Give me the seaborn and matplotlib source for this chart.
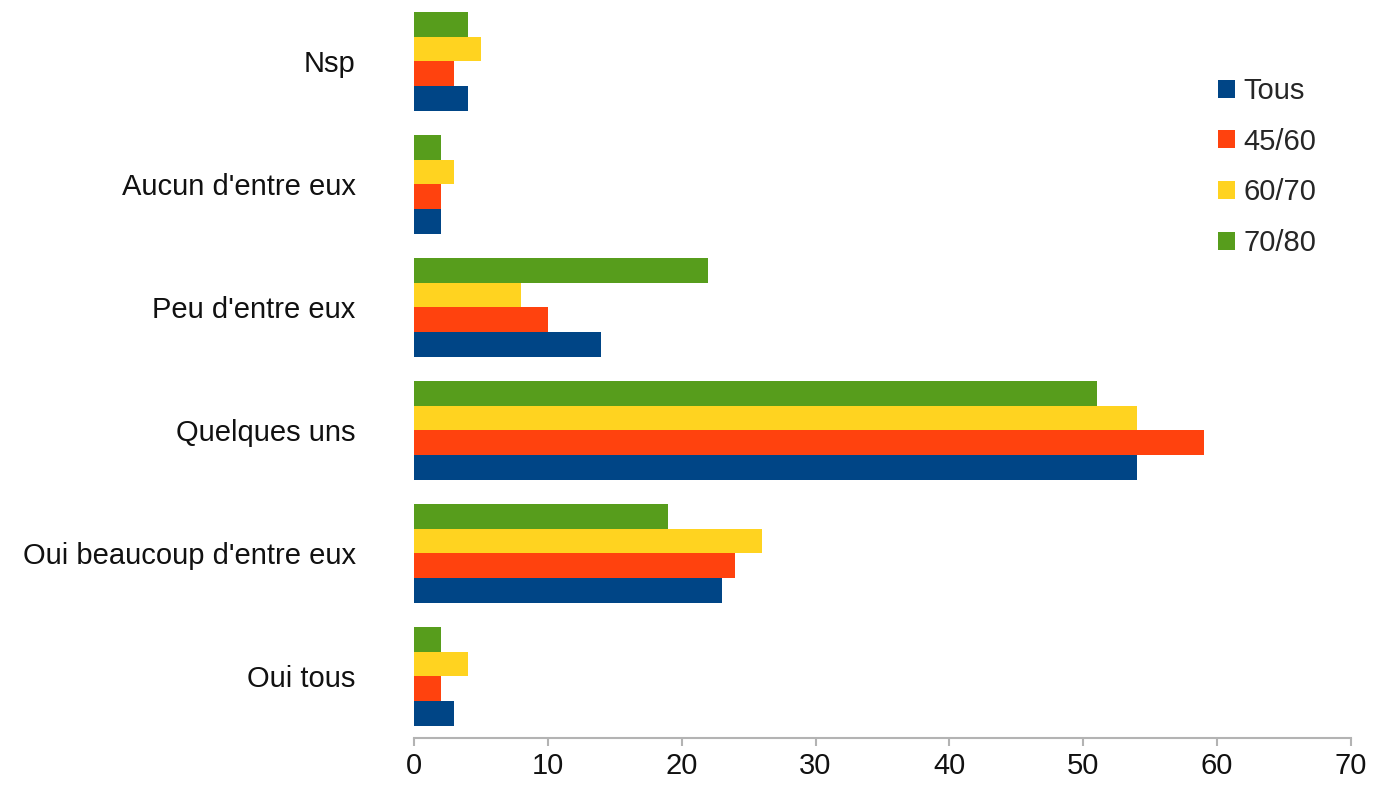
"""Grouped horizontal bar chart: responses by age band."""

import matplotlib.pyplot as plt
import pandas as pd
import seaborn as sns
from matplotlib.patches import Patch

# categories, top to bottom as shown
categories = [
    "Nsp",
    "Aucun d'entre eux",
    "Peu d'entre eux",
    "Quelques uns",
    "Oui beaucoup d'entre eux",
    "Oui tous",
]
series_names = ["Tous", "45/60", "60/70", "70/80"]

tous = [4, 2, 14, 54, 23, 3]
age_45_60 = [3, 2, 10, 59, 24, 2]
age_60_70 = [5, 3, 8, 54, 26, 4]
age_70_80 = [4, 2, 22, 51, 19, 2]

colors = {"Tous": "#004586", "45/60": "#ff420e", "60/70": "#ffd320", "70/80": "#579d1c"}

rows = []
for name, vals in zip(series_names, [tous, age_45_60, age_60_70, age_70_80]):
    for cat, v in zip(categories, vals):
        rows.append({"reponse": cat, "groupe": name, "pct": v})
df = pd.DataFrame(rows)

sns.set_theme(style="white")
plt.rcParams["font.family"] = ["Liberation Sans", "DejaVu Sans"]

fig = plt.figure(figsize=(13.73, 7.85), dpi=100)
ax = fig.add_axes([0.3015, 0.06, 0.6825, 0.94])

# reversed hue order so "Tous" sits at the bottom of each group
sns.barplot(
    data=df, y="reponse", x="pct", hue="groupe",
    order=categories, hue_order=series_names[::-1],
    palette=colors, orient="h", width=0.8, ax=ax,
    saturation=1, legend=False, linewidth=0,
)

ax.set_xlim(0, 70)
ax.set_xticks(range(0, 71, 10))
ax.set_xlabel("")
ax.set_ylabel("")
sns.despine(ax=ax, left=True)
ax.spines["bottom"].set_color("#b3b3b3")
ax.spines["bottom"].set_linewidth(1.5)
ax.tick_params(axis="x", bottom=True, length=6, width=1.5, color="#b3b3b3",
               labelsize=21, labelcolor="#111111", pad=4)
ax.tick_params(axis="y", left=False, labelsize=21, labelcolor="#111111", pad=36)

handles = [Patch(facecolor=colors[n], edgecolor="none") for n in series_names]
fig.legend(
    handles, series_names, loc="upper left", bbox_to_anchor=(0.887, 0.902),
    frameon=False, fontsize=21, handlelength=0.58, handleheight=0.58,
    handletextpad=0.3, labelspacing=0.78, borderpad=0, borderaxespad=0,
)

fig.savefig("out.png", dpi=100)
